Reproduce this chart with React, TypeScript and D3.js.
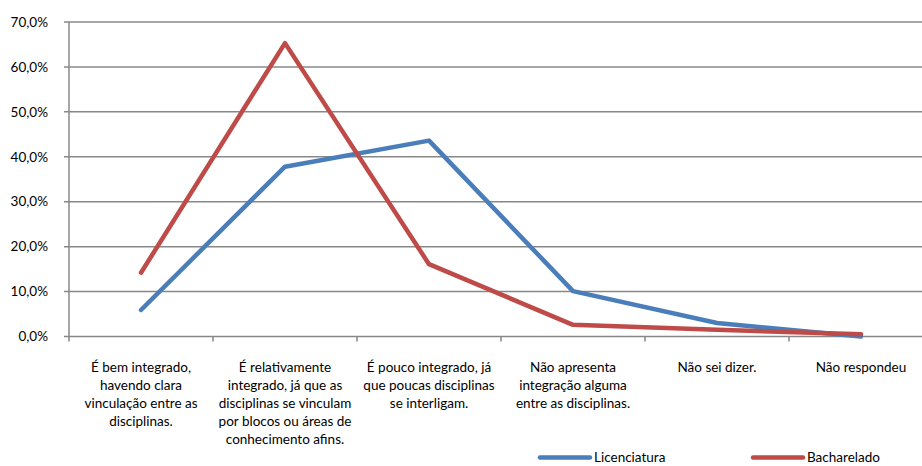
import React from "react";
import * as d3 from "d3";

const categories = [
  "É bem integrado,\nhavendo clara\nvinculação entre as\ndisciplinas.",
  "É relativamente\nintegrado, já que as\ndisciplinas se vinculam\npor blocos ou áreas de\nconhecimento afins.",
  "É pouco integrado, já\nque poucas disciplinas\nse interligam.",
  "Não apresenta\nintegração alguma\nentre as disciplinas.",
  "Não sei dizer.",
  "Não respondeu",
];
const licenciatura = [5.9, 37.8, 43.6, 10.1, 3.0, 0.0];
const bacharelado = [14.2, 65.3, 16.1, 2.6, 1.5, 0.5];
const yTicks = [0, 10, 20, 30, 40, 50, 60, 70];
const seriesNames = ["Licenciatura", "Bacharelado"];
const seriesColors = ["#4A7EBB", "#BE4B48"];

const W = 922;
const H = 466;
const FONT = "Lato, 'Open Sans', sans-serif";

export default function App() {
  const left = 69;
  const right = 933;
  const top = 22;
  const bottom = 336.5;
  const x = d3.scaleBand<number>().domain(d3.range(categories.length)).range([left, right]);
  const y = d3.scaleLinear().domain([0, 70]).range([bottom, top]);
  const line = d3
    .line<number>()
    .x((_, i) => (x(i) as number) + x.bandwidth() / 2)
    .y((d) => y(d));
  const series = [licenciatura, bacharelado];
  const fmt = (v: number) => v.toFixed(1).replace(".", ",") + "%";
  const legendX = [540, 753];

  return (
    <svg
      width={W}
      height={H}
      style={{ position: "fixed", left: 0, top: 0, background: "#fff" }}
      fontFamily={FONT}
    >
      <rect width={W} height={H} fill="#fff" />
      {yTicks.map((t) => (
        <g key={t}>
          <line x1={left - 5} x2={right} y1={y(t)} y2={y(t)} stroke="#888" strokeWidth={1.5} />
          <text x={48} y={y(t)} dy="0.35em" textAnchor="end" fontSize={13.5} fill="#000">
            {fmt(t)}
          </text>
        </g>
      ))}
      <line x1={left} x2={left} y1={top} y2={bottom + 5} stroke="#888" strokeWidth={1.5} />
      {categories.map((_, i) => (
        <line
          key={i}
          x1={(x(i) as number) + x.bandwidth()}
          x2={(x(i) as number) + x.bandwidth()}
          y1={bottom}
          y2={bottom + 5}
          stroke="#888"
          strokeWidth={1.5}
        />
      ))}
      {categories.map((c, i) => (
        <text
          key={i}
          x={(x(i) as number) + x.bandwidth() / 2}
          y={372}
          textAnchor="middle"
          fontSize={13.5}
          fill="#000"
        >
          {c.split("\n").map((l, j) => (
            <tspan key={j} x={(x(i) as number) + x.bandwidth() / 2} dy={j === 0 ? 0 : 18}>
              {l}
            </tspan>
          ))}
        </text>
      ))}
      {series.map((s, k) => (
        <path
          key={k}
          d={line(s) || ""}
          fill="none"
          stroke={seriesColors[k]}
          strokeWidth={4.5}
          strokeLinecap="round"
          strokeLinejoin="round"
        />
      ))}
      {seriesNames.map((n, k) => (
        <g key={n}>
          <line
            x1={legendX[k]}
            x2={legendX[k] + 50}
            y1={457.5}
            y2={457.5}
            stroke={seriesColors[k]}
            strokeWidth={4.5}
            strokeLinecap="round"
          />
          <text x={legendX[k] + 54} y={457.5} dy="0.35em" fontSize={13.5} fill="#000">
            {n}
          </text>
        </g>
      ))}
    </svg>
  );
}
